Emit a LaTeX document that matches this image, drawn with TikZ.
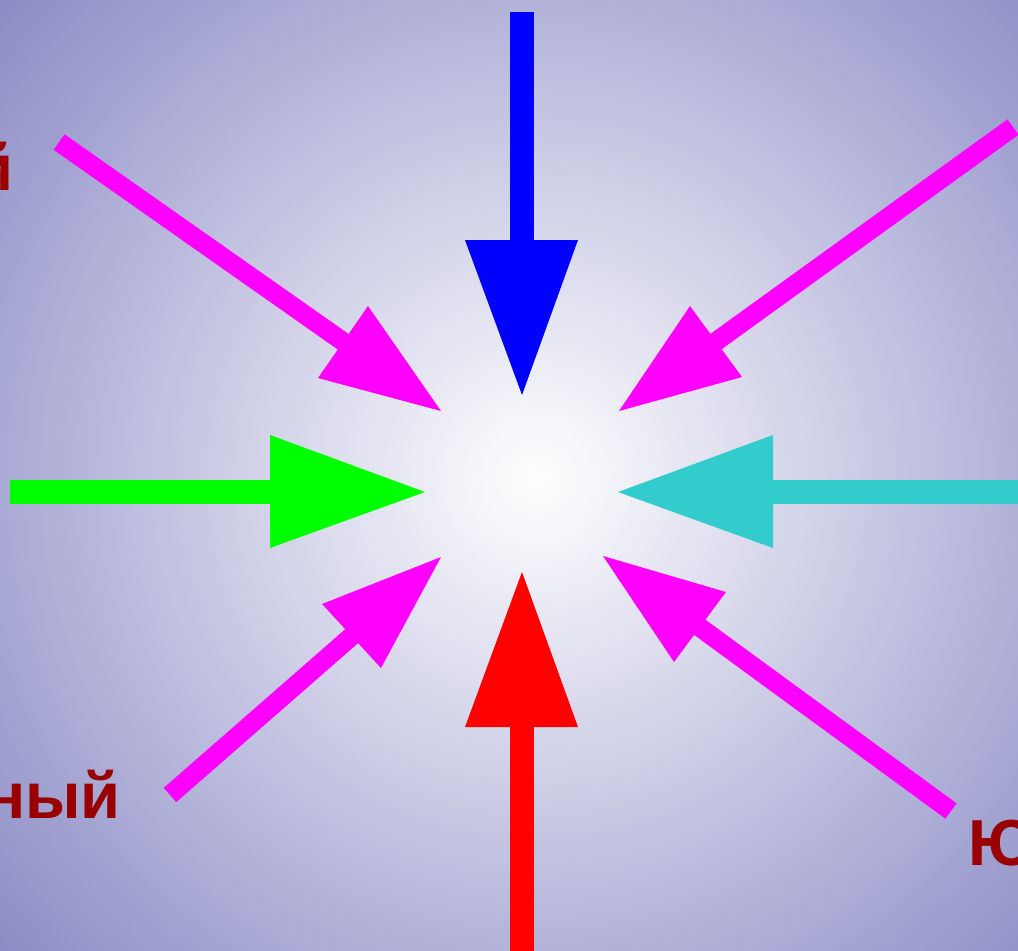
\documentclass[tikz,border=0pt]{standalone}
\usepackage{fontspec}
\setmainfont{Liberation Sans}
\definecolor{bgout}{HTML}{8C8CC6}
\definecolor{txt}{HTML}{990000}
\definecolor{mag}{HTML}{FF00FF}
\definecolor{cyn}{HTML}{33CCCC}
\tikzset{
  shaft/.style={line width=19pt, line cap=butt, draw=mag},
  lbl/.style={font=\bfseries\fontsize{65}{70}\selectfont, text=txt, inner sep=0pt}
}
\begin{document}
\begin{tikzpicture}[x=1pt,y=-1pt]
\useasboundingbox (0,0) rectangle (1018,951);
\begin{scope}
\clip (0,0) rectangle (1018,951);
\fill[bgout] (0,0) rectangle (1018,951);
\foreach \i in {0,...,89} {
  \pgfmathsetmacro\rr{722*(1-\i/90)}
  \pgfmathsetmacro\pp{100*(1-\i/90)}
  \fill[bgout!\pp!white] (537,478) circle (\rr pt);
}
% labels
\node[lbl, anchor=base east] (l1) at (14,190) {й};
\node[lbl, anchor=base east] (l2) at (121,818) {ный};
\node[lbl, anchor=base west] (l3) at (968,865) {Ю};
% blue (top)
\fill[blue] (510,12) rectangle (534,242);
\fill[blue] (465,240) -- (578,240) -- (522,395) -- cycle;
% red (bottom)
\fill[red] (510,725) rectangle (534,951);
\fill[red] (465,727) -- (578,727) -- (522,572) -- cycle;
% green (left)
\fill[green] (10,480) rectangle (272,504);
\fill[green] (270,435) -- (270,548) -- (425,492) -- cycle;
% cyan (right)
\fill[cyn] (771,480) rectangle (1018,504);
\fill[cyn] (773,435) -- (773,548) -- (618,492) -- cycle;
% magenta top-left
\coordinate (tlA) at (59,142);
\coordinate (tlB) at (345,343);
\draw[shaft] (tlA) -- (tlB);
\fill[mag] (318,378) -- (368,306) -- (441,411) -- cycle;
% magenta top-right
\coordinate (trA) at (1013,127);
\coordinate (trB) at (714,343);
\draw[shaft] (trA) -- (trB);
\fill[mag] (690,306) -- (742,377) -- (619,411) -- cycle;
% magenta bottom-left
\coordinate (blA) at (170,795);
\coordinate (blB) at (353,635);
\draw[shaft] (blA) -- (blB);
\fill[mag] (322,604) -- (381,668) -- (441,557) -- cycle;
% magenta bottom-right
\coordinate (brA) at (951,811);
\coordinate (brB) at (698,626);
\draw[shaft] (brA) -- (brB);
\fill[mag] (726,592) -- (674,662) -- (603,556) -- cycle;
\end{scope}
\end{tikzpicture}
\end{document}
